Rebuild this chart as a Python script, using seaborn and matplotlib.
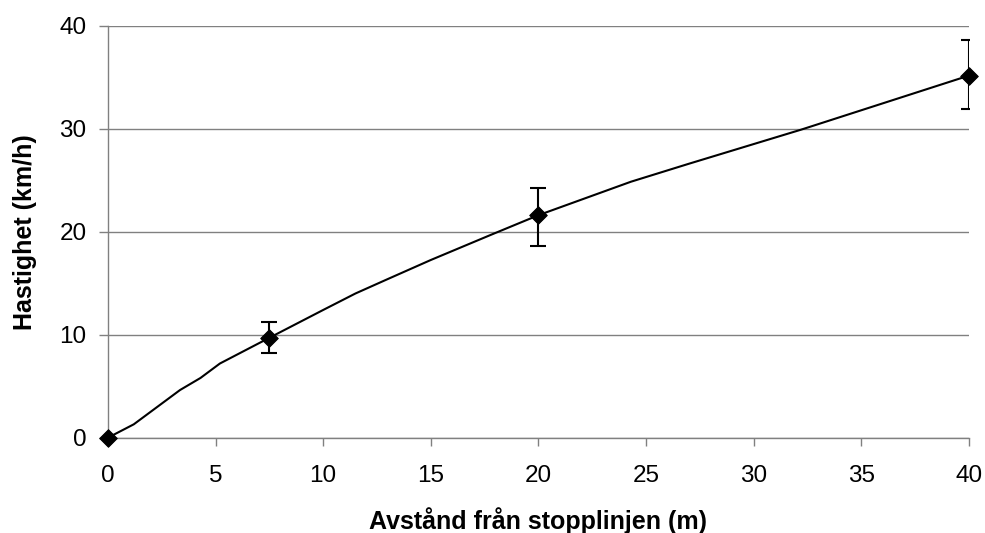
import matplotlib
matplotlib.use("Agg")
import matplotlib.pyplot as plt
import seaborn as sns
import pandas as pd
import numpy as np

# Measured points (distance from stop line, m) and mean speed (km/h)
dist_pts = [0, 7.5, 20, 40]
speed_pts = [0, 9.7, 21.6, 35.15]
err_low = [0, 8.2, 18.65, 31.9]
err_high = [0, 11.25, 24.25, 38.65]

# Smoothed curve as drawn in the chart
curve_x = [0, 1.2, 3.35, 4.3, 5.2, 7.5, 10.0, 11.5, 13.0, 15.0, 17.8, 20, 24.3, 27.0, 32.2, 34.8, 40]
curve_y = [0, 1.3, 4.63, 5.8, 7.2, 9.7, 12.4, 14.0, 15.4, 17.25, 19.7, 21.6, 24.85, 26.6, 29.9, 31.65, 35.15]

x_ticks = [0, 5, 10, 15, 20, 25, 30, 35, 40]
y_ticks = [0, 10, 20, 30, 40]

sns.set_theme(style="white")
plt.rcParams['font.family'] = ['Liberation Sans', 'DejaVu Sans']

fig = plt.figure(figsize=(9.85, 5.33), dpi=100)
ax = fig.add_axes([0.1096, 0.1788, 0.8739, 0.773])

curve_df = pd.DataFrame({"x": curve_x, "y": curve_y})
pts_df = pd.DataFrame({"x": dist_pts, "y": speed_pts})

sns.lineplot(data=curve_df, x="x", y="y", ax=ax, color="black", linewidth=1.5,
             sort=False, zorder=3)

# error bars (skip the origin point which has none)
xs = np.array(dist_pts[1:])
ys = np.array(speed_pts[1:])
lo = ys - np.array(err_low[1:])
hi = np.array(err_high[1:]) - ys
ax.errorbar(xs, ys, yerr=[lo, hi], fmt="none", ecolor="black", elinewidth=1.5,
            capsize=6, capthick=1.5, zorder=4)

sns.scatterplot(data=pts_df, x="x", y="y", ax=ax, marker="D", s=80, color="black",
                edgecolor="black", zorder=5, clip_on=False)

ax.set_xlim(0, 40)
ax.set_ylim(0, 40)
ax.set_xticks(x_ticks)
ax.set_yticks(y_ticks)
ax.set_xticklabels([str(t) for t in x_ticks])
ax.set_yticklabels([str(t) for t in y_ticks])

ax.yaxis.grid(True, color="#808080", linewidth=1.0)
ax.xaxis.grid(False)
ax.set_axisbelow(True)

for s in ["top", "right"]:
    ax.spines[s].set_visible(False)
for s in ["left", "bottom"]:
    ax.spines[s].set_color("#808080")
    ax.spines[s].set_linewidth(1.0)

ax.tick_params(axis="x", direction="out", length=5.5, width=1.0, color="#808080",
               pad=14, labelsize=17.5, labelcolor="black", bottom=True)
ax.tick_params(axis="y", direction="out", length=6.5, width=1.0, color="#808080",
               pad=9, labelsize=17.5, labelcolor="black", left=True)

ax.set_xlabel("Avstånd från stopplinjen (m)", fontsize=18, fontweight="bold", color="black")
ax.set_ylabel("Hastighet (km/h)", fontsize=18, fontweight="bold", color="black")
ax.xaxis.set_label_coords(0.5, -0.168)
ax.yaxis.set_label_coords(-0.083, 0.5)

fig.savefig("out.png", dpi=100, facecolor="white")
